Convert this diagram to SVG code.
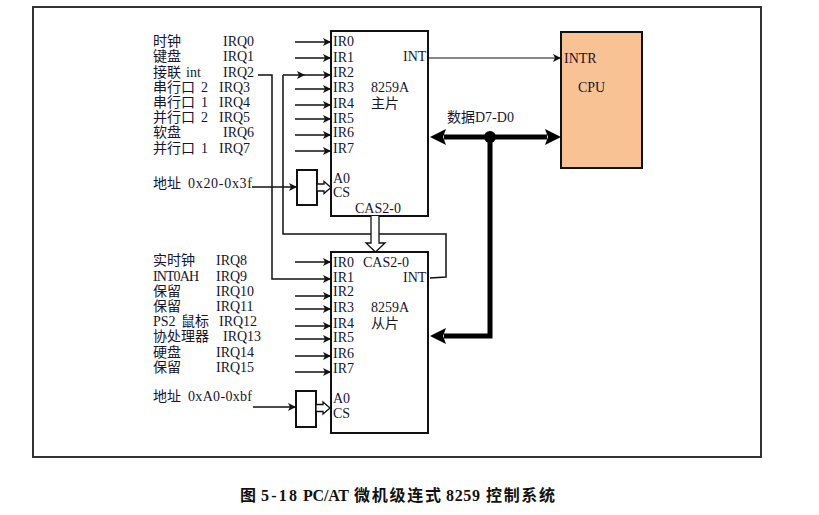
<svg xmlns="http://www.w3.org/2000/svg" width="819" height="515" viewBox="0 0 819 515">
<style>
text{font-family:"Liberation Serif","Noto Sans CJK SC",serif;fill:#15152e}
.cj{font-size:14px}
.la{font-size:14px}
.cap{font-size:16px;font-weight:bold;fill:#111}
.box{fill:#fff;stroke:#111;stroke-width:2}
.ln{fill:none;stroke:#111;stroke-width:1.5}
.thin{fill:none;stroke:#111;stroke-width:1}
.bus{fill:none;stroke:#000;stroke-width:5}
.hol{fill:#fff;stroke:#111;stroke-width:1.3}
</style>
<defs>
<marker id="a" viewBox="0 0 10 10" refX="10" refY="5" markerWidth="10" markerHeight="8" markerUnits="userSpaceOnUse" orient="auto">
<path d="M0,0 L10,5 L0,10 L2.5,5 z" fill="#111"/>
</marker>
</defs>
<rect x="33" y="7" width="728" height="450" fill="none" stroke="#333" stroke-width="2"/>

<g id="master">
<rect class="box" x="331" y="31" width="97" height="185"/>
<text class="la" x="333" y="46">IR0</text>
<text class="la" x="333" y="62">IR1</text>
<text class="la" x="333" y="77">IR2</text>
<text class="la" x="333" y="92">IR3</text>
<text class="la" x="333" y="108">IR4</text>
<text class="la" x="333" y="123">IR5</text>
<text class="la" x="333" y="137">IR6</text>
<text class="la" x="333" y="153">IR7</text>
<text class="la" x="403" y="61">INT</text>
<text class="la" x="371" y="92">8259A</text>
<text class="cj" x="371" y="108">主片</text>
<text class="la" x="333" y="183">A0</text>
<text class="la" x="333" y="197">CS</text>
<text class="la" x="355" y="213">CAS2-0</text>
</g>

<g id="slave">
<rect class="box" x="331" y="252" width="97" height="181"/>
<text class="la" x="333" y="267">IR0</text>
<text class="la" x="333" y="282">IR1</text>
<text class="la" x="333" y="296">IR2</text>
<text class="la" x="333" y="312">IR3</text>
<text class="la" x="333" y="328">IR4</text>
<text class="la" x="333" y="342">IR5</text>
<text class="la" x="333" y="358">IR6</text>
<text class="la" x="333" y="373">IR7</text>
<text class="la" x="363" y="267">CAS2-0</text>
<text class="la" x="403" y="282">INT</text>
<text class="la" x="371" y="312">8259A</text>
<text class="cj" x="371" y="328">从片</text>
<text class="la" x="333" y="403">A0</text>
<text class="la" x="333" y="418">CS</text>
</g>

<g id="cpu">
<rect x="561" y="32" width="81" height="136" fill="#F9C294" stroke="#111" stroke-width="2"/>
<text class="la" x="564" y="63">INTR</text>
<text class="la" x="578" y="92">CPU</text>
</g>

<g id="addr1">
<rect class="box" x="297" y="170" width="20" height="35"/>
<text class="cj" x="153" y="188">地址</text>
<text class="la" x="188" y="188" font-size="15" textLength="64">0x20-0x3f</text>
</g>
<g id="addr2">
<rect class="box" x="296" y="391" width="20" height="36"/>
<text class="cj" x="153" y="401">地址</text>
<text class="la" x="188" y="401" font-size="15" textLength="64">0xA0-0xbf</text>
</g>

<g id="labels-master">
<text class="cj" x="153" y="46">时钟</text><text class="la" x="223" y="46">IRQ0</text>
<text class="cj" x="153" y="61">键盘</text><text class="la" x="223" y="61">IRQ1</text>
<text class="cj" x="153" y="77">接联</text><text class="la" x="186" y="77">int</text><text class="la" x="223" y="77">IRQ2</text>
<text class="cj" x="153" y="92">串行口</text><text class="la" x="201" y="92">2</text><text class="la" x="219" y="92">IRQ3</text>
<text class="cj" x="153" y="107">串行口</text><text class="la" x="201" y="107">1</text><text class="la" x="219" y="107">IRQ4</text>
<text class="cj" x="153" y="122">并行口</text><text class="la" x="201" y="122">2</text><text class="la" x="219" y="122">IRQ5</text>
<text class="cj" x="153" y="137">软盘</text><text class="la" x="223" y="137">IRQ6</text>
<text class="cj" x="153" y="153">并行口</text><text class="la" x="201" y="153">1</text><text class="la" x="219" y="153">IRQ7</text>
</g>

<g id="labels-slave">
<text class="cj" x="153" y="265">实时钟</text><text class="la" x="216" y="265">IRQ8</text>
<text class="la" x="153" y="281" textLength="46">INT0AH</text><text class="la" x="216" y="281">IRQ9</text>
<text class="cj" x="153" y="296">保留</text><text class="la" x="216" y="296">IRQ10</text>
<text class="cj" x="153" y="311">保留</text><text class="la" x="216" y="311">IRQ11</text>
<text class="la" x="153" y="326">PS2</text><text class="cj" x="181" y="326">鼠标</text><text class="la" x="219" y="326">IRQ12</text>
<text class="cj" x="153" y="341">协处理器</text><text class="la" x="223" y="341">IRQ13</text>
<text class="cj" x="153" y="357">硬盘</text><text class="la" x="216" y="357">IRQ14</text>
<text class="cj" x="153" y="372">保留</text><text class="la" x="216" y="372">IRQ15</text>
</g>

<g id="connectors">
<path class="ln" marker-end="url(#a)" d="M295,42 H331"/>
<path class="ln" marker-end="url(#a)" d="M295,58 H331"/>
<path class="ln" marker-end="url(#a)" d="M295,89 H331"/>
<path class="ln" marker-end="url(#a)" d="M295,105 H331"/>
<path class="ln" marker-end="url(#a)" d="M295,119 H331"/>
<path class="ln" marker-end="url(#a)" d="M295,135 H331"/>
<path class="ln" marker-end="url(#a)" d="M295,151 H331"/>
<path class="ln" d="M430,278 L446,277 V234 H283 V75"/>
<path class="ln" marker-mid="url(#a)" marker-end="url(#a)" d="M283,75 H305 H331"/>
<path class="ln" marker-end="url(#a)" d="M258,75 H272 V279 H331"/>
<path class="ln" marker-end="url(#a)" d="M295,262 H331"/>
<path class="ln" marker-end="url(#a)" d="M295,296 H331"/>
<path class="ln" marker-end="url(#a)" d="M295,309 H331"/>
<path class="ln" marker-end="url(#a)" d="M295,326 H331"/>
<path class="ln" marker-end="url(#a)" d="M295,339 H331"/>
<path class="ln" marker-end="url(#a)" d="M295,356 H331"/>
<path class="ln" marker-end="url(#a)" d="M295,372 H331"/>
<path class="ln" marker-end="url(#a)" d="M252,187 H297"/>
<path class="ln" marker-end="url(#a)" d="M253,407 H296"/>
<path class="hol" d="M317,184 H324 V181.5 L331,187.5 L324,193.5 V191 H317 Z"/>
<path class="hol" d="M316,404.5 H323 V402 L330,408 L323,414 V411.5 H316 Z"/>
<path class="hol" d="M371,216 V243 H366 L375.5,252 L385,243 H379 V216"/>
<path class="thin" marker-end="url(#a)" d="M428,58 H561"/>
<path class="bus" d="M444,137 H547"/>
<path d="M430,137 L446,129 L443,137 L446,145 Z" fill="#000"/>
<path d="M561,137 L545,129 L548,137 L545,145 Z" fill="#000"/>
<circle cx="490" cy="137" r="6" fill="#000"/>
<path class="bus" d="M490,137 V336 H444"/>
<path d="M430,336 L446,328 L443,336 L446,344 Z" fill="#000"/>
</g>
<text class="cj" x="447" y="122">数据</text><text class="la" x="475" y="122">D7-D0</text>

<g id="caption">
<text class="cap" x="240" y="501">图</text>
<text class="cap" x="261" y="501" textLength="36">5-18</text>
<text class="cap" x="303" y="501" textLength="46">PC/AT</text>
<text class="cap" x="354" y="501" textLength="87">微机级连式</text>
<text class="cap" x="446" y="501" textLength="34">8259</text>
<text class="cap" x="486" y="501" textLength="69">控制系统</text>
</g>
</svg>
